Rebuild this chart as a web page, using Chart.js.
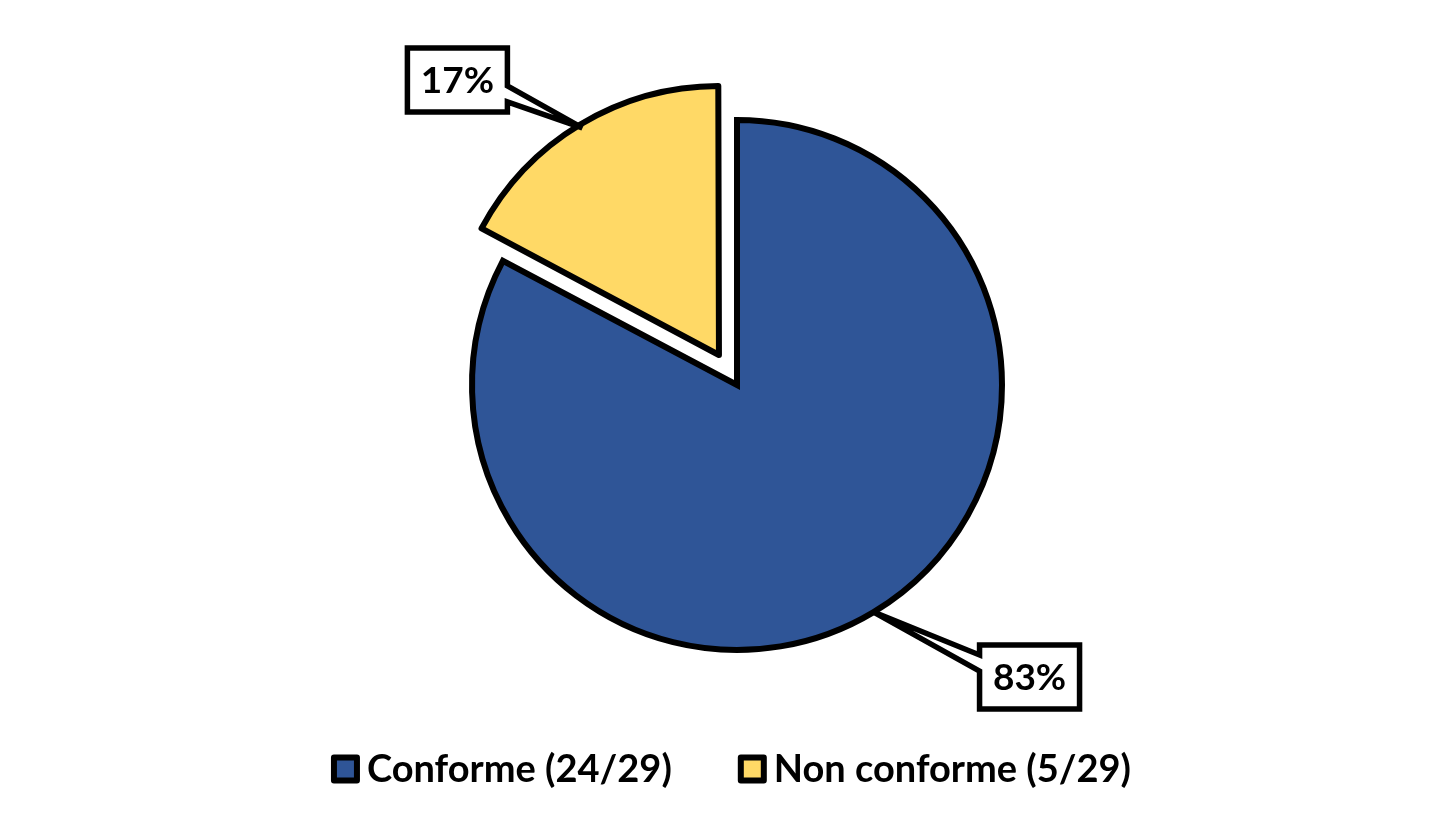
<!DOCTYPE html>
<html><head><meta charset="utf-8">
<script src="https://cdn.jsdelivr.net/npm/chart.js@4/dist/chart.umd.min.js"></script>
<style>html,body{margin:0;padding:0;background:#fff;overflow:hidden;}</style>
</head><body>
<canvas id="c" width="1451" height="835"></canvas>
<script>
// ---- data ----
const categories = ['Conforme (24/29)', 'Non conforme (5/29)'];
const counts = [24, 5];
const sliceColors = ['#2F5597', '#FFD966'];
const sliceOffsets = [0, 140];
const sliceJoins = ['miter', 'round'];
// label box centre relative to slice centre, in radius units
const labelPlacement = [[1.104, 1.102], [-0.987, -1.038]];

const FONT = 'Lato, "Open Sans", sans-serif';
const legendFontSize = 38;
const labelFontSize = 37;

const total = counts.reduce((a, b) => a + b, 0);
const percentLabels = counts.map(v => Math.round(v / total * 100) + '%');

const calloutPlugin = {
  id: 'callouts',
  afterDatasetsDraw(chart) {
    const ctx = chart.ctx;
    const meta = chart.getDatasetMeta(0);
    meta.data.forEach((arc, i) => {
      const p = arc.getProps(['x', 'y', 'startAngle', 'endAngle', 'outerRadius'], true);
      const mid = (p.startAngle + p.endAngle) / 2;
      const off = (arc.options.offset || 0) / 4;
      const cx = p.x + Math.cos(mid) * off, cy = p.y + Math.sin(mid) * off;
      const r = p.outerRadius;
      const tipX = cx + Math.cos(mid) * r, tipY = cy + Math.sin(mid) * r;
      const bx = cx + labelPlacement[i][0] * r, by = cy + labelPlacement[i][1] * r;
      const w = 100, h = 64;
      const L = bx - w / 2, R = bx + w / 2, T = by - h / 2, B = by + h / 2;
      const s = tipY > by ? 1 : -1;
      const ya = Math.min(by + s * 6, by + s * 22), yb = Math.max(by + s * 6, by + s * 22);
      ctx.save();
      ctx.beginPath();
      ctx.moveTo(L, T); ctx.lineTo(R, T);
      if (tipX > R) { ctx.lineTo(R, ya); ctx.lineTo(tipX, tipY); ctx.lineTo(R, yb); }
      ctx.lineTo(R, B); ctx.lineTo(L, B);
      if (tipX < L) { ctx.lineTo(L, yb); ctx.lineTo(tipX, tipY); ctx.lineTo(L, ya); }
      ctx.closePath();
      ctx.fillStyle = '#fff';
      ctx.fill();
      ctx.lineWidth = 5.5;
      ctx.lineJoin = 'miter';
      ctx.strokeStyle = '#000';
      ctx.stroke();
      ctx.fillStyle = '#000';
      ctx.font = 'bold ' + labelFontSize + 'px ' + FONT;
      ctx.textAlign = 'center';
      ctx.textBaseline = 'middle';
      ctx.fillText(percentLabels[i], bx, by + 1);
      ctx.restore();
    });
  }
};

const legendPlugin = {
  id: 'boxLegend',
  afterDraw(chart) {
    const ctx = chart.ctx;
    ctx.save();
    ctx.font = 'bold ' + legendFontSize + 'px ' + FONT;
    const box = 23, lw = 6, gapText = 7, gapItem = 66;
    const widths = categories.map(t => box + lw + gapText + ctx.measureText(t).width);
    const tot = widths.reduce((a, b) => a + b, 0) + gapItem * (categories.length - 1);
    const centreX = (chart.chartArea.left + chart.chartArea.right) / 2 - 6;
    let x = centreX - tot / 2;
    const y = chart.chartArea.bottom - 1;
    categories.forEach((t, i) => {
      ctx.fillStyle = sliceColors[i];
      ctx.strokeStyle = '#000';
      ctx.lineWidth = lw;
      ctx.lineJoin = 'round';
      ctx.fillRect(x + lw / 2, y - box / 2, box, box);
      ctx.strokeRect(x + lw / 2, y - box / 2, box, box);
      ctx.fillStyle = '#000';
      ctx.textAlign = 'left';
      ctx.textBaseline = 'middle';
      ctx.fillText(t, x + box + lw + gapText, y + 1);
      x += widths[i] + gapItem;
    });
    ctx.restore();
  }
};

new Chart(document.getElementById('c'), {
  type: 'pie',
  data: {
    labels: categories,
    datasets: [{
      data: counts,
      backgroundColor: sliceColors,
      borderColor: '#000',
      borderWidth: 6,
      borderJoinStyle: sliceJoins,
      offset: sliceOffsets,
      hoverOffset: 0
    }]
  },
  options: {
    responsive: false,
    animation: false,
    events: [],
    radius: 265,
    layout: { padding: { left: 23, right: 0, top: 0, bottom: 65 } },
    plugins: { legend: { display: false }, tooltip: { enabled: false } }
  },
  plugins: [calloutPlugin, legendPlugin]
});
</script>
</body></html>
